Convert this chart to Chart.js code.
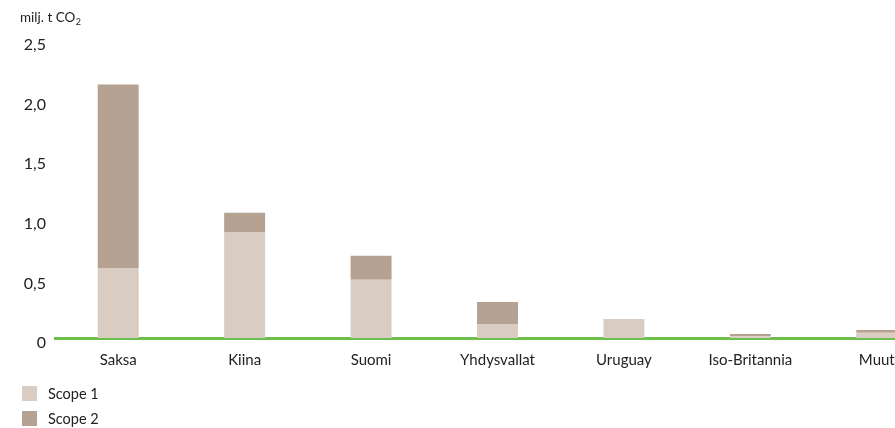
<!DOCTYPE html>
<html>
<head>
<meta charset="utf-8">
<script src="https://cdn.jsdelivr.net/npm/chart.js@4/dist/chart.umd.min.js"></script>
<style>
  html, body { margin: 0; padding: 0; background: #fff; overflow: hidden; }
  #wrap { position: relative; width: 945px; height: 428px; }
</style>
</head>
<body>
<div id="wrap"><canvas id="c"></canvas></div>
<script>
const categories = ['Saksa', 'Kiina', 'Suomi', 'Yhdysvallat', 'Uruguay', 'Iso-Britannia', 'Muut'];
const scope1 = [0.588, 0.885, 0.488, 0.118, 0.155, 0.015, 0.045];
const scope2 = [1.538, 0.165, 0.201, 0.185, 0.005, 0.019, 0.022];
const seriesNames = ['Scope 1', 'Scope 2'];
const seriesColors = ['#d9cdc3', '#b5a292'];
const yTicks = [0, 0.5, 1.0, 1.5, 2.0, 2.5];
const unitLabel = 'milj. t CO';
const unitSub = '2';

const FONT = 'Lato, "Open Sans", sans-serif';
const TEXT = '#222222';

const overlay = {
  id: 'overlay',
  afterDraw(chart) {
    const ctx = chart.ctx;
    ctx.save();
    // unit label
    ctx.fillStyle = TEXT;
    ctx.textBaseline = 'alphabetic';
    ctx.textAlign = 'left';
    ctx.font = '13.5px ' + FONT;
    ctx.fillText(unitLabel, 20, 22);
    const w = ctx.measureText(unitLabel).width;
    ctx.font = '9px ' + FONT;
    ctx.fillText(unitSub, 20 + w + 0.5, 25);
    // legend
    chart.data.datasets.forEach((ds, i) => {
      const y = 386 + i * 25;
      ctx.fillStyle = ds.backgroundColor;
      ctx.fillRect(22, y, 15, 15);
      ctx.fillStyle = TEXT;
      ctx.font = '14.5px ' + FONT;
      ctx.textBaseline = 'middle';
      ctx.fillText(ds.label, 48, y + 8);
    });
    ctx.restore();
  }
};

new Chart(document.getElementById('c'), {
  type: 'bar',
  data: {
    labels: categories,
    datasets: [
      { label: seriesNames[0], data: scope1, backgroundColor: seriesColors[0], borderWidth: 0 },
      { label: seriesNames[1], data: scope2, backgroundColor: seriesColors[1], borderWidth: 0 }
    ]
  },
  options: {
    responsive: true,
    maintainAspectRatio: false,
    animation: false,
    layout: { padding: { left: 0, right: 5, top: 40, bottom: 50 } },
    plugins: {
      legend: { display: false },
      tooltip: { enabled: false },
      title: { display: false }
    },
    datasets: { bar: { categoryPercentage: 1.0, barPercentage: 0.324 } },
    scales: {
      x: {
        stacked: true,
        grid: { display: false, drawTicks: false },
        border: { display: true, color: '#6cbf4a', width: 3 },
        ticks: { color: TEXT, font: { family: FONT, size: 15 }, padding: 13, maxRotation: 0, autoSkip: false },
        afterFit(scale) { scale.height = 40; }
      },
      y: {
        stacked: true,
        min: 0,
        max: 2.5,
        afterBuildTicks(scale) { scale.ticks = yTicks.map(v => ({ value: v })); },
        grid: { display: false, drawTicks: false },
        border: { display: false },
        ticks: {
          color: TEXT,
          font: { family: FONT, size: 16 },
          padding: 9,
          labelOffset: 5,
          callback: v => v === 0 ? '0' : v.toFixed(1).replace('.', ',')
        },
        afterFit(scale) { scale.width = 55; }
      }
    }
  },
  plugins: [overlay]
});
</script>
</body>
</html>
